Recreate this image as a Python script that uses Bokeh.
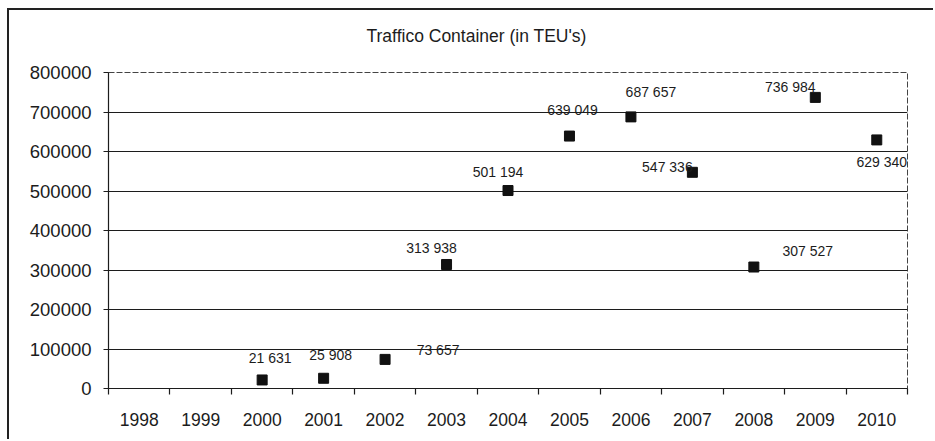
from bokeh.plotting import figure
from bokeh.models import (FixedTicker, NumeralTickFormatter, Range1d,
                          ColumnDataSource, LabelSet, Title)
from bokeh.core.properties import value
from bokeh.embed import file_html
from bokeh.resources import INLINE

# ---- data ----
tick_years = ["1998", "1999", "2000", "2001", "2002", "2003", "2004",
              "2005", "2006", "2007", "2008", "2009", "2010"]
data_years = ["2000", "2001", "2002", "2003", "2004", "2005",
              "2006", "2007", "2008", "2009", "2010"]
teu = [21631, 25908, 73657, 313938, 501194, 639049,
       687657, 547336, 307527, 736984, 629340]
y_ticks = [0, 100000, 200000, 300000, 400000, 500000, 600000, 700000, 800000]
title_text = "Traffico Container (in TEU's)"

# ---- label placement (screen pixels, style only) ----
label_dx = [8, 7, 53, -15, -10, 3, 20, -25, 54, -25, 5]
label_dy = [22, 23, 9, 16, 19, 26, 25, 5, 16, 10, -22]

FONT = "Liberation Sans"
INK = "#1c1c1c"

x_pos = [tick_years.index(y) + 0.5 for y in data_years]
labels = [f"{v:,}".replace(",", " ") for v in teu]

src = ColumnDataSource(dict(x=x_pos, y=teu, lab=labels,
                            dx=label_dx, dy=label_dy))

p = figure(width=926, height=431, output_backend="svg", toolbar_location=None,
           x_range=Range1d(0, len(tick_years)), y_range=Range1d(0, 800000),
           min_border_left=99, min_border_right=28, min_border_top=62,
           min_border_bottom=53, background_fill_color="white",
           border_fill_color="white")
p.styles = {"border-left": "2px solid #222", "border-top": "2px solid #222",
            "margin-left": "7px", "margin-top": "8px"}
p.title.visible = False

# spacer between plot area and title, then the title itself
p.add_layout(Title(text=" ", text_font_size="10px", standoff=14), "above")
p.add_layout(Title(text=title_text, text_font=FONT, text_font_size="17.5px",
                   text_font_style="normal", text_color=INK, align="left",
                   offset=258, standoff=0), "above")

# outline
p.outline_line_color = "#444"
p.outline_line_width = 1
p.outline_line_dash = "6 2"

# grid
p.xgrid.visible = False
p.ygrid.ticker = FixedTicker(ticks=y_ticks[1:-1])
p.ygrid.grid_line_color = INK
p.ygrid.grid_line_width = 1.2

# y axis
p.yaxis.ticker = FixedTicker(ticks=y_ticks, minor_ticks=[])
p.yaxis.formatter = NumeralTickFormatter(format="0")
p.yaxis.major_tick_out = 5
p.yaxis.major_tick_in = 0
p.yaxis.minor_tick_out = 0
p.yaxis.minor_tick_in = 0
p.yaxis.major_label_standoff = 12
p.yaxis.major_label_text_font = FONT
p.yaxis.major_label_text_font_size = "18.5px"
p.yaxis.major_label_text_color = INK
p.yaxis.axis_line_color = INK
p.yaxis.axis_line_width = 1.2
p.yaxis.major_tick_line_color = INK

# x axis (labels at category centres, tick marks between categories)
p.xaxis.ticker = FixedTicker(ticks=[i + 0.5 for i in range(len(tick_years))],
                             minor_ticks=list(range(len(tick_years) + 1)))
p.xaxis.major_label_overrides = {i + 0.5: t for i, t in enumerate(tick_years)}
p.xaxis.major_tick_out = 0
p.xaxis.major_tick_in = 0
p.xaxis.minor_tick_out = 6
p.xaxis.minor_tick_in = 0
p.xaxis.minor_tick_line_color = INK
p.xaxis.minor_tick_line_width = 1.2
p.xaxis.major_label_standoff = 18
p.xaxis.major_label_text_font = FONT
p.xaxis.major_label_text_font_size = "17.5px"
p.xaxis.major_label_text_color = INK
p.xaxis.axis_line_color = INK
p.xaxis.axis_line_width = 1.2

# markers
p.scatter("x", "y", source=src, marker="square", size=10,
          fill_color="#111111", line_color="#111111")

# data labels
p.add_layout(LabelSet(x="x", y="y", text="lab", source=src,
                      x_offset="dx", y_offset="dy",
                      text_align="center", text_baseline="middle",
                      text_font=value(FONT), text_font_size="14px",
                      text_color=INK))

open("out.html", "w").write(file_html(p, INLINE))
